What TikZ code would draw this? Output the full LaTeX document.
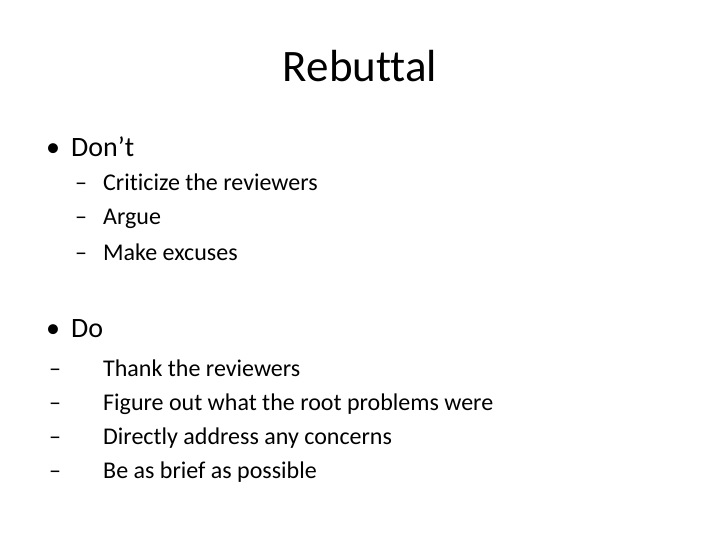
\documentclass[tikz,border=0pt]{standalone}
\usepackage{fontspec}
\setmainfont[Ligatures={NoCommon,TeX}]{Carlito}
\begin{document}
\begin{tikzpicture}[x=1pt,y=-1pt,
  t/.style={anchor=base west,inner sep=0pt,font=\fontsize{24}{28}\selectfont},
  b/.style={anchor=base west,inner sep=0pt,font=\fontsize{28}{32}\selectfont}]
\useasboundingbox[fill=white] (0,0) rectangle (720,540);
\node[anchor=base,inner sep=0pt,font=\fontsize{45}{50}\selectfont] (title) at (360,82) {Rebuttal};
\node[b] (b1) at (46,157) {•};
\node[b] (dont) at (71,157) {Don’t};
\node[t] (d1) at (75,191) {–};
\node[t] (t1) at (103,191) {Criticize the reviewers};
\node[t] (d2) at (75,225) {–};
\node[t] (t2) at (103,225) {Argue};
\node[t] (d3) at (75,260) {–};
\node[t] (t3) at (103,260) {Make excuses};
\node[b] (b2) at (46,337) {•};
\node[b] (do) at (71,337) {Do};
\node[t] (e1) at (49,376) {–};
\node[t] (s1) at (103,376) {Thank the reviewers};
\node[t] (e2) at (49,410) {–};
\node[t] (s2) at (103,410) {Figure out what the root problems were};
\node[t] (e3) at (49,444) {–};
\node[t] (s3) at (103,444) {Directly address any concerns};
\node[t] (e4) at (49,478) {–};
\node[t] (s4) at (103,478) {Be as brief as possible};
\end{tikzpicture}
\end{document}
